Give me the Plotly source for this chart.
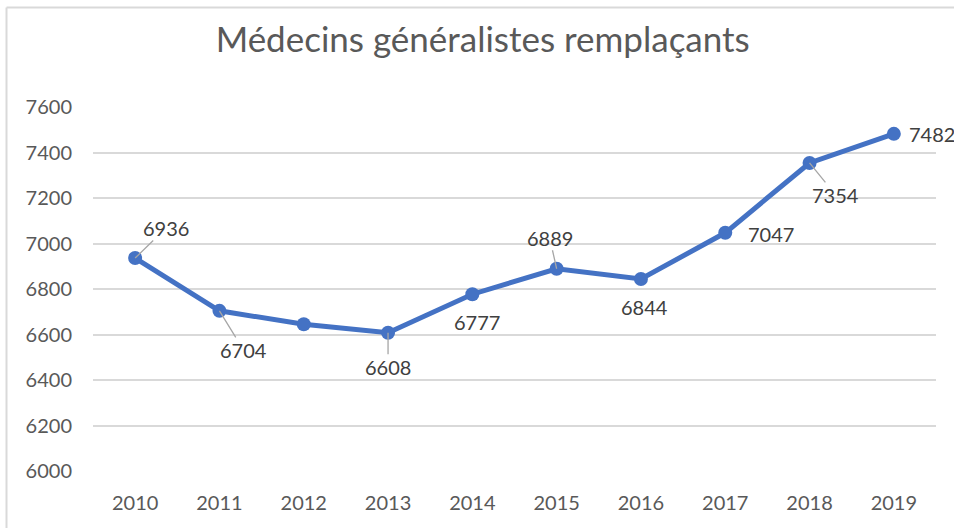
import plotly.graph_objects as go

years = ["2010", "2011", "2012", "2013", "2014", "2015", "2016", "2017", "2018", "2019"]
values = [6936, 6704, 6645, 6608, 6777, 6889, 6844, 7047, 7354, 7482]
show_label = [True, True, False, True, True, True, True, True, True, True]
y_ticks = [6000, 6200, 6400, 6600, 6800, 7000, 7200, 7400, 7600]

# label offsets (pixels) and whether a leader line is drawn
offsets = {
    "2010": (31, -30, True),
    "2011": (24, 39, True),
    "2013": (0, 34, True),
    "2014": (5, 28, False),
    "2015": (-7, -31, True),
    "2016": (4, 28, False),
    "2017": (46, 1, False),
    "2018": (26, 32, True),
    "2019": (38, 0, False),
}

BLUE = "#4472C4"
FONT = "Lato"

fig = go.Figure()
fig.add_trace(go.Scatter(
    x=years, y=values, mode="lines+markers",
    line=dict(color=BLUE, width=5),
    marker=dict(color=BLUE, size=14),
    hoverinfo="skip", cliponaxis=False,
))

annotations = []
for i, (yr, v, sl) in enumerate(zip(years, values, show_label)):
    if not sl:
        continue
    ax, ay, leader = offsets[yr]
    common = dict(x=i, y=v, xref="x", yref="y", text=str(v),
                  font=dict(family=FONT, size=20, color="#404040"))
    if leader:
        annotations.append(dict(
            **common, showarrow=True, arrowhead=0, arrowwidth=1.3,
            arrowcolor="#A6A6A6", ax=ax, ay=ay, borderpad=0,
        ))
    else:
        annotations.append(dict(**common, showarrow=False, xshift=ax, yshift=-ay))

L, R, T, B = 93, 18, 107, 57
W, H = 954, 528
pw, ph = W - L - R, H - T - B
px = lambda x: (x - L) / pw
py = lambda y: (H - B - y) / ph

fig.update_layout(
    width=W, height=H,
    margin=dict(l=L, r=R, t=T, b=B),
    paper_bgcolor="white", plot_bgcolor="white",
    showlegend=False,
    title=dict(text="Médecins généralistes remplaçants", x=0.506, xanchor="center",
               y=1 - 40 / H, yanchor="middle",
               font=dict(family=FONT, size=35, color="#595959")),
    xaxis=dict(type="category", range=[-0.5, 9.5], showgrid=False, zeroline=False,
               showline=False, ticks="", ticklabelstandoff=18,
               tickfont=dict(family=FONT, size=20, color="#595959")),
    yaxis=dict(range=[6000, 7600], tickvals=y_ticks, showgrid=True,
               gridcolor="#D9D9D9", gridwidth=1.5, zeroline=False, showline=False,
               ticks="", ticklabelstandoff=20,
               tickfont=dict(family=FONT, size=20, color="#595959")),
    annotations=annotations,
    shapes=[
        dict(type="line", xref="paper", yref="paper", x0=px(6.5), x1=px(960),
             y0=py(7.5), y1=py(7.5), line=dict(color="#D9D9D9", width=2)),
        dict(type="line", xref="paper", yref="paper", x0=px(6.5), x1=px(6.5),
             y0=py(7.5), y1=py(540), line=dict(color="#D9D9D9", width=2)),
    ],
)

fig.write_html("out.html", config={"displayModeBar": False},
               post_script="document.body.style.margin='0';document.body.style.overflow='hidden';")
